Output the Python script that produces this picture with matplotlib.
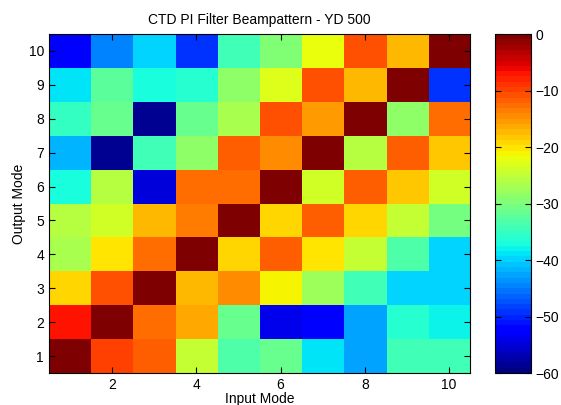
import matplotlib
matplotlib.use("Agg")
import matplotlib.pyplot as plt
import numpy as np

plt.rcParams['font.family'] = ['Liberation Sans', 'DejaVu Sans']

input_modes = list(range(1, 11))
output_modes = list(range(1, 11))

# rows: output mode 1..10, columns: input mode 1..10 (dB)
row1 = [0, -9.5, -11.5, -25, -33.5, -31, -39, -42.6, -34.5, -34.5]
row2 = [-7.5, -0.5, -12.5, -16.5, -31, -54, -53, -42.6, -36.5, -37.8]
row3 = [-19, -10.5, 0, -17, -15, -21.5, -28, -34.5, -39.5, -39.5]
row4 = [-26.5, -20.4, -12.5, 0, -19, -12, -19.8, -25, -33, -39.5]
row5 = [-26, -24, -17, -14, 0, -19, -12, -19, -24.5, -30.5]
row6 = [-37, -25.8, -55, -12.5, -12.5, 0, -24, -11.5, -18.6, -24]
row7 = [-41.3, -59, -34.5, -29, -11.5, -15, 0, -26, -12, -18.6]
row8 = [-35.5, -31.5, -59, -31, -26.5, -11, -15.8, 0, -28.6, -12.5]
row9 = [-39, -32.8, -37.5, -36, -29, -23, -11, -17.5, 0, -49]
row10 = [-53, -44.5, -39.6, -48.9, -34.5, -30, -22.5, -11.25, -17.5, 0]

data = np.array([row1, row2, row3, row4, row5, row6, row7, row8, row9, row10])

xticks = [2, 4, 6, 8, 10]
yticks = list(range(1, 11))
cbar_ticks = [-60, -50, -40, -30, -20, -10, 0]

fig = plt.figure(figsize=(5.61, 4.05), dpi=100)
ax = fig.add_axes([0.087, 0.079, 0.751, 0.837])
cax = fig.add_axes([0.882, 0.079, 0.064, 0.837])

cmap = plt.get_cmap('jet', 64)
im = ax.imshow(data, cmap=cmap, vmin=-60, vmax=0, origin='lower', aspect='auto',
               extent=[0.5, 10.5, 0.5, 10.5], interpolation='nearest')

ax.set_xticks(xticks)
ax.set_yticks(yticks)
ax.tick_params(direction='in', top=True, right=True, labelsize=10, length=4, width=0.8)
ax.set_xlabel('Input Mode', fontsize=10, labelpad=0)
ax.set_ylabel('Output Mode', fontsize=10, labelpad=2)
ax.set_title('CTD PI Filter Beampattern - YD 500', fontsize=10, pad=7)
for s in ax.spines.values():
    s.set_linewidth(0.8)

cb = fig.colorbar(im, cax=cax, ticks=cbar_ticks)
cb.ax.tick_params(direction='in', labelsize=10, length=4, width=0.8, left=True, right=True)
cb.outline.set_linewidth(0.8)

fig.savefig('out.png', dpi=100)
